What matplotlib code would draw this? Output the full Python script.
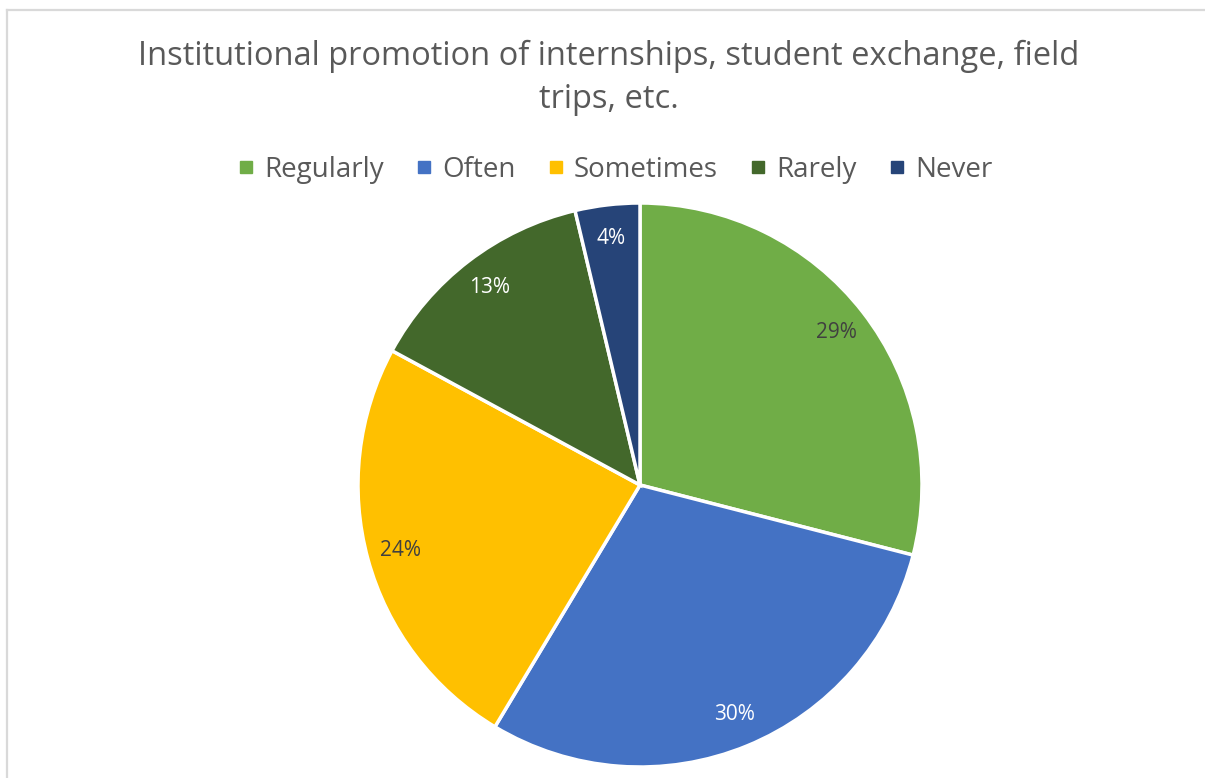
import matplotlib
matplotlib.use("Agg")
import matplotlib.pyplot as plt
from matplotlib.lines import Line2D

categories = ["Regularly", "Often", "Sometimes", "Rarely", "Never"]
values = [29.0, 29.6, 24.3, 13.4, 3.7]
colors = ["#70AD47", "#4472C4", "#FFC000", "#43682B", "#264478"]
label_colors = ["#404040", "white", "#404040", "white", "white"]
title = "Institutional promotion of internships, student exchange, field\ntrips, etc."

plt.rcParams['font.family'] = ['Open Sans', 'DejaVu Sans']

W, H = 1205, 778
fig = plt.figure(figsize=(W / 100, H / 100), dpi=100)
fig.patch.set_facecolor("white")

# border of the chart area
fig.add_artist(Line2D([7.5 / W, 7.5 / W], [0, 1 - 9.5 / H], color="#D9D9D9", lw=1.6))
fig.add_artist(Line2D([7.5 / W, 1], [1 - 9.5 / H, 1 - 9.5 / H], color="#D9D9D9", lw=1.6))

# pie axes
cx, cy, r = 640, 485, 282
pad = 1.06
half = r * pad
ax = fig.add_axes([(cx - half) / W, (H - cy - half) / H, 2 * half / W, 2 * half / H])

wedges, texts, autotexts = ax.pie(
    values, colors=colors, startangle=90, counterclock=False,
    radius=1.0, autopct="%.0f%%", pctdistance=0.88,
    wedgeprops=dict(edgecolor="white", linewidth=2.5),
    textprops=dict(fontsize=15))
for t, c in zip(autotexts, label_colors):
    t.set_color(c)
ax.set_xlim(-pad, pad)
ax.set_ylim(-pad, pad)
ax.set_aspect("equal")
ax.axis("off")

fig.text(609 / W, 1 - 78 / H, title, ha="center", va="center",
         fontsize=23.5, color="#595959", linespacing=1.4)

handles = [Line2D([], [], marker="s", linestyle="none", markersize=8.6,
                  markerfacecolor=c, markeredgecolor=c) for c in colors]
leg = fig.legend(handles, categories, loc="center", bbox_to_anchor=(615 / W, 1 - 170 / H),
                 ncol=5, frameon=False, fontsize=20, handlelength=0.6,
                 handletextpad=0.35, columnspacing=1.15, labelcolor="#595959",
                 borderpad=0.1)

fig.savefig("out.png", dpi=100)
